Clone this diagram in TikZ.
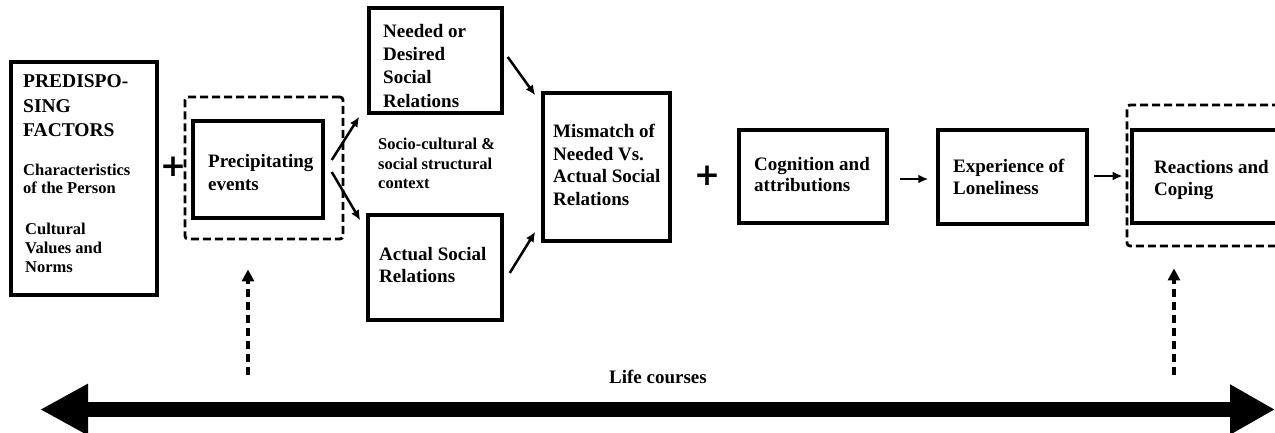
\documentclass[tikz,border=0pt]{standalone}
\usepackage{fontspec}
\setmainfont{Liberation Serif}
\newfontfamily\plusfont{DejaVu Sans}
\usetikzlibrary{arrows.meta}
\begin{document}
\begin{tikzpicture}[x=1pt,y=-1pt,
 box/.style 2 args={draw, line width=3.5pt, inner sep=0pt, minimum width=#1, minimum height=#2},
 dbox/.style 2 args={draw, line width=2.8pt, dash pattern=on 8pt off 4pt, rounded corners=3pt, inner sep=0pt, minimum width=#1, minimum height=#2},
 lbl/.style={anchor=north west, align=left, inner sep=0pt},
 fbig/.style={font=\bfseries\fontsize{19}{#1}\selectfont},
 fsmall/.style={font=\bfseries\fontsize{16.5}{#1}\selectfont},
 arr/.style={line width=2.5pt, -{Latex[length=10pt,width=9pt]}},
 darr/.style={line width=3.5pt, dash pattern=on 8pt off 5pt, -{Triangle[length=12pt,width=12pt]}},
 plussign/.style={inner sep=0pt, font=\plusfont\bfseries\fontsize{31}{31}\selectfont}]
\useasboundingbox (0,0) rectangle (1275,433);
\clip (0,0) rectangle (1275,433);

% boxes
\node[box={146pt}{233pt}, line width=4pt] (pre) at (84,178.5) {};
\node[dbox={158pt}{142pt}] (pdash) at (264,168) {};
\node[box={130pt}{97pt}] (prec) at (258,169.5) {};
\node[box={133pt}{105pt}] (need) at (435.5,60.5) {};
\node[box={134pt}{105pt}] (act) at (435,267.5) {};
\node[box={127pt}{148pt}] (mis) at (606.5,167) {};
\node[box={148pt}{93pt}] (cog) at (813,176.5) {};
\node[box={149pt}{94pt}] (exp) at (1012.5,177) {};
\node[dbox={180pt}{141pt}] (rdash) at (1217,175.5) {};
\node[box={175pt}{93pt}] (react) at (1219.5,176.5) {};

% texts
\node[lbl, font=\bfseries\fontsize{19.5}{24.5}\selectfont] (tpre) at (23,74.7) {PREDISPO-\\SING\\FACTORS};
\node[lbl, fsmall=18.5] (tchar) at (23,163.8) {Characteristics\\of the Person};
\node[lbl, fsmall=19] (tcult) at (25,222.8) {Cultural\\Values and\\Norms};
\node[lbl, fbig=23] (tprec) at (208,154) {Precipitating\\events};
\node[lbl, fbig=23.3] (tneed) at (383,24) {Needed or\\Desired\\Social\\Relations};
\node[lbl, fsmall=19.5] (tctx) at (378,138) {Socio-cultural \&\\social structural\\context};
\node[lbl, fbig=22] (tact) at (379,247) {Actual Social\\Relations};
\node[lbl, fbig=22.7] (tmis) at (553,124) {Mismatch of\\Needed Vs.\\Actual Social\\Relations};
\node[lbl, fbig=21.5] (tcog) at (754,157) {Cognition and\\attributions};
\node[lbl, fbig=22] (texp) at (953,159) {Experience of\\Loneliness};
\node[lbl, fbig=22] (treact) at (1154,160) {Reactions and\\Coping};
\node[anchor=base, inner sep=0pt, fbig=23] (tlife) at (658,383) {Life courses};

% plus signs
\node[plussign] (plus1) at (173,167) {+};
\node[plussign] (plus2) at (707,176) {+};

% connectors
\draw[arr] ([xshift=7pt,yshift=9.5pt]prec.east) -- ([xshift=-8pt,yshift=-2pt]need.south west);
\draw[arr] ([xshift=7pt,yshift=-2.5pt]prec.east) -- ([xshift=-6pt,yshift=-7pt]act.north west);
\draw[arr] ([xshift=4pt,yshift=3.5pt]need.east) -- ([xshift=-6pt,yshift=-4pt]mis.north west);
\draw[arr] ([xshift=6pt,yshift=-5.5pt]act.east) -- ([xshift=-6pt,yshift=11pt]mis.south west);
\draw[arr] ([xshift=11pt,yshift=-2.5pt]cog.east) -- ([xshift=-8pt,yshift=-2pt]exp.west);
\draw[arr] ([xshift=5pt,yshift=1pt]exp.east) -- ([xshift=-3pt,yshift=-0.5pt]rdash.west);

% life course
\coordinate (lcA) at (248,375);
\coordinate (lcB) at (1174,375);
\draw[darr, shorten >=29pt] (lcA) -- (lcA |- pdash.south);
\draw[darr, shorten >=21pt] (lcB) -- (lcB |- rdash.south);
\coordinate (lifeL) at (40,409.5);
\coordinate (lifeR) at (1275,409.5);
\draw[line width=15pt, {Triangle[length=48pt,width=48pt]}-{Triangle[length=45pt,width=47pt]}] (lifeL) -- (lifeR);
\end{tikzpicture}
\end{document}
